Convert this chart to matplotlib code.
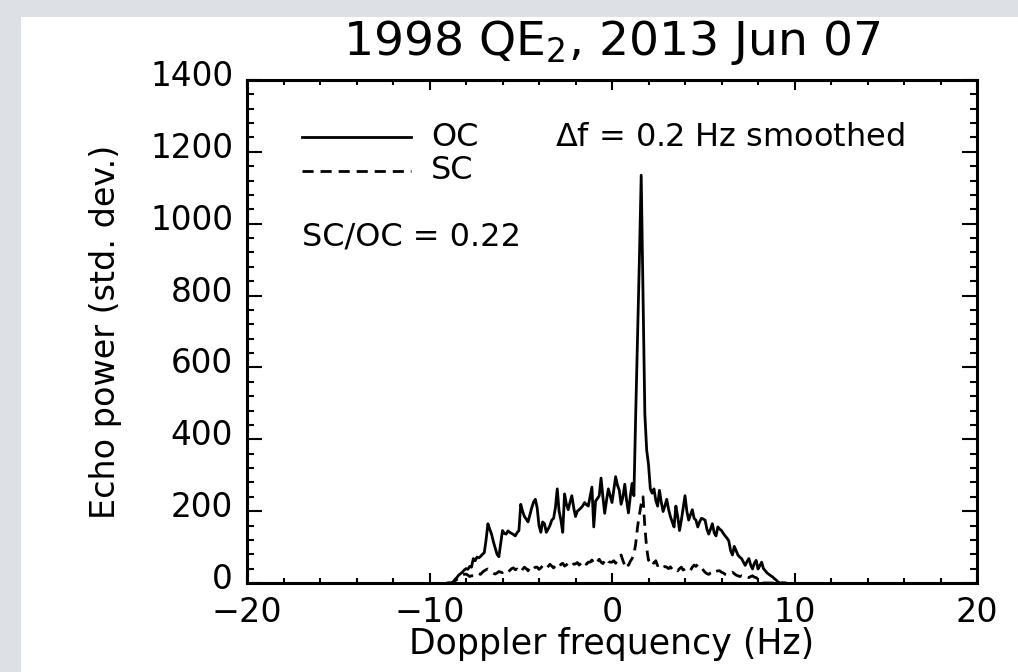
import matplotlib.pyplot as plt
import numpy as np
from matplotlib.patches import Rectangle
from matplotlib.ticker import MultipleLocator
from matplotlib.transforms import ScaledTranslation

plt.rcParams['font.family'] = 'DejaVu Sans'
plt.rcParams['mathtext.default'] = 'regular'

# spectra sampled every 0.1 Hz starting at -9.0 Hz
freq_start = -9.0
freq_step = 0.1

oc = [0, 0, 0, 3, 10, 15, 22, 26, 30, 36,
      40, 38, 46, 44, 68, 62, 72, 70, 74, 80,
      84, 120, 165, 150, 136, 115, 97, 80, 73, 110,
      146, 138, 136, 145, 141, 138, 135, 131, 140, 146,
      219, 200, 185, 178, 170, 190, 209, 225, 233, 209,
      160, 141, 170, 165, 141, 150, 160, 175, 180, 210,
      262, 200, 175, 141, 248, 220, 204, 225, 243, 210,
      185, 200, 204, 209, 215, 224, 218, 214, 240, 267,
      156, 228, 235, 243, 292, 240, 194, 230, 262, 243,
      224, 260, 296, 272, 258, 219, 240, 275, 230, 195,
      240, 277, 243, 472, 685, 900, 1135, 800, 470, 370,
      330, 262, 250, 262, 230, 214, 258, 225, 199, 215,
      233, 205, 185, 170, 156, 214, 185, 146, 175, 209,
      243, 200, 175, 190, 204, 180, 175, 156, 170, 180,
      178, 175, 150, 136, 150, 165, 140, 131, 156, 150,
      146, 138, 131, 125, 117, 90, 78, 102, 90, 78,
      72, 68, 58, 49, 60, 68, 50, 39, 55, 63,
      39, 48, 58, 40, 34, 28, 24, 20, 17, 12,
      8, 3, 0, 0, 0, 0]

sc = [0, 0, 0, 2, 6, 10, 14, 18, 22, 24,
      25, 22, 18, 20, 20, 22, 28, 26, 24, 30,
      34, 37, 39, 36, 30, 27, 25, 28, 32, 30,
      29, 33, 36, 31, 35, 40, 42, 37, 39, 35,
      30, 38, 44, 40, 34, 42, 46, 40, 44, 44,
      38, 42, 48, 45, 40, 46, 52, 47, 42, 49,
      49, 44, 52, 55, 47, 50, 56, 52, 48, 53,
      53, 57, 50, 55, 62, 56, 52, 58, 58, 64,
      56, 52, 60, 66, 58, 54, 62, 68, 60, 58,
      58, 62, 55, 66, 72, 78, 62, 49, 58, 49,
      60, 68, 78, 110, 156, 190, 220, 240, 156, 97,
      63, 70, 58, 55, 62, 48, 53, 50, 44, 46,
      44, 40, 45, 38, 42, 39, 34, 40, 44, 36,
      39, 42, 39, 35, 44, 50, 46, 52, 49, 42,
      36, 30, 26, 24, 28, 30, 26, 32, 34, 34,
      30, 28, 24, 22, 24, 27, 30, 26, 22, 20,
      18, 20, 19, 22, 18, 15, 18, 20, 16, 15,
      10, 5, 0, 0, 0, 0, 0, 0, 0, 0,
      0, 0, 0, 0, 0, 0]

freq = freq_start + freq_step * np.arange(len(oc))

x_ticks = [-20, -10, 0, 10, 20]
y_ticks = [0, 200, 400, 600, 800, 1000, 1200, 1400]

fig = plt.figure(figsize=(10.18, 6.72), dpi=100)
fig.patch.set_facecolor('#dde1e5')
fig.patches.append(Rectangle((21 / 1018, 0), 1, (672 - 17) / 672,
                             transform=fig.transFigure, facecolor='white',
                             edgecolor='none', zorder=-10))

ax = fig.add_axes([247 / 1018, 1 - 583 / 672, 730 / 1018, 503 / 672])
ax.set_zorder(1)
ax.plot(freq, oc, color='black', lw=2)
ax.plot(freq, sc, color='black', lw=2, dashes=(4, 2.5))

ax.set_xlim(-20, 20)
ax.set_ylim(0, 1400)
ax.set_xticks(x_ticks)
ax.set_yticks(y_ticks)
ax.xaxis.set_minor_locator(MultipleLocator(2))
ax.yaxis.set_minor_locator(MultipleLocator(40))
ax.tick_params(axis='both', which='both', direction='in', top=True, right=True,
               width=1.5)
ax.tick_params(axis='x', labelsize=24)
ax.tick_params(axis='y', labelsize=23.5)
ax.tick_params(axis='x', which='major', length=7.2, pad=9)
ax.tick_params(axis='x', which='minor', length=3.6)
ax.tick_params(axis='y', which='major', length=10.5, pad=10)
ax.tick_params(axis='y', which='minor', length=5.3)
for s in ax.spines.values():
    s.set_linewidth(2.2)

# y labels sit a little above their ticks, as in the original
shift = ScaledTranslation(0, 5 / 72, fig.dpi_scale_trans)
for lab in ax.get_yticklabels():
    lab.set_transform(lab.get_transform() + shift)

ax.set_title('1998 QE$_2$, 2013 Jun 07', fontsize=34, pad=18)
ax.set_xlabel('Doppler frequency (Hz)', fontsize=25, labelpad=-1)
ax.set_ylabel('Echo power (std. dev.)', fontsize=24, labelpad=20)

# legend drawn as in the original
ax.plot([-17.0, -11.0], [1241, 1241], color='black', lw=2)
ax.plot([-17.0, -11.0], [1147, 1147], color='black', lw=2, dashes=(4, 2.5))
ax.text(-9.9, 1241, 'OC', fontsize=23, va='center')
ax.text(-9.9, 1147, 'SC', fontsize=23, va='center')
ax.text(-3.1, 1241, '$\\Delta$f = 0.2 Hz smoothed', fontsize=23, va='center')
ax.text(-17.0, 963, 'SC/OC = 0.22', fontsize=23, va='center')

plt.savefig('out.png', dpi=100, facecolor=fig.get_facecolor())
